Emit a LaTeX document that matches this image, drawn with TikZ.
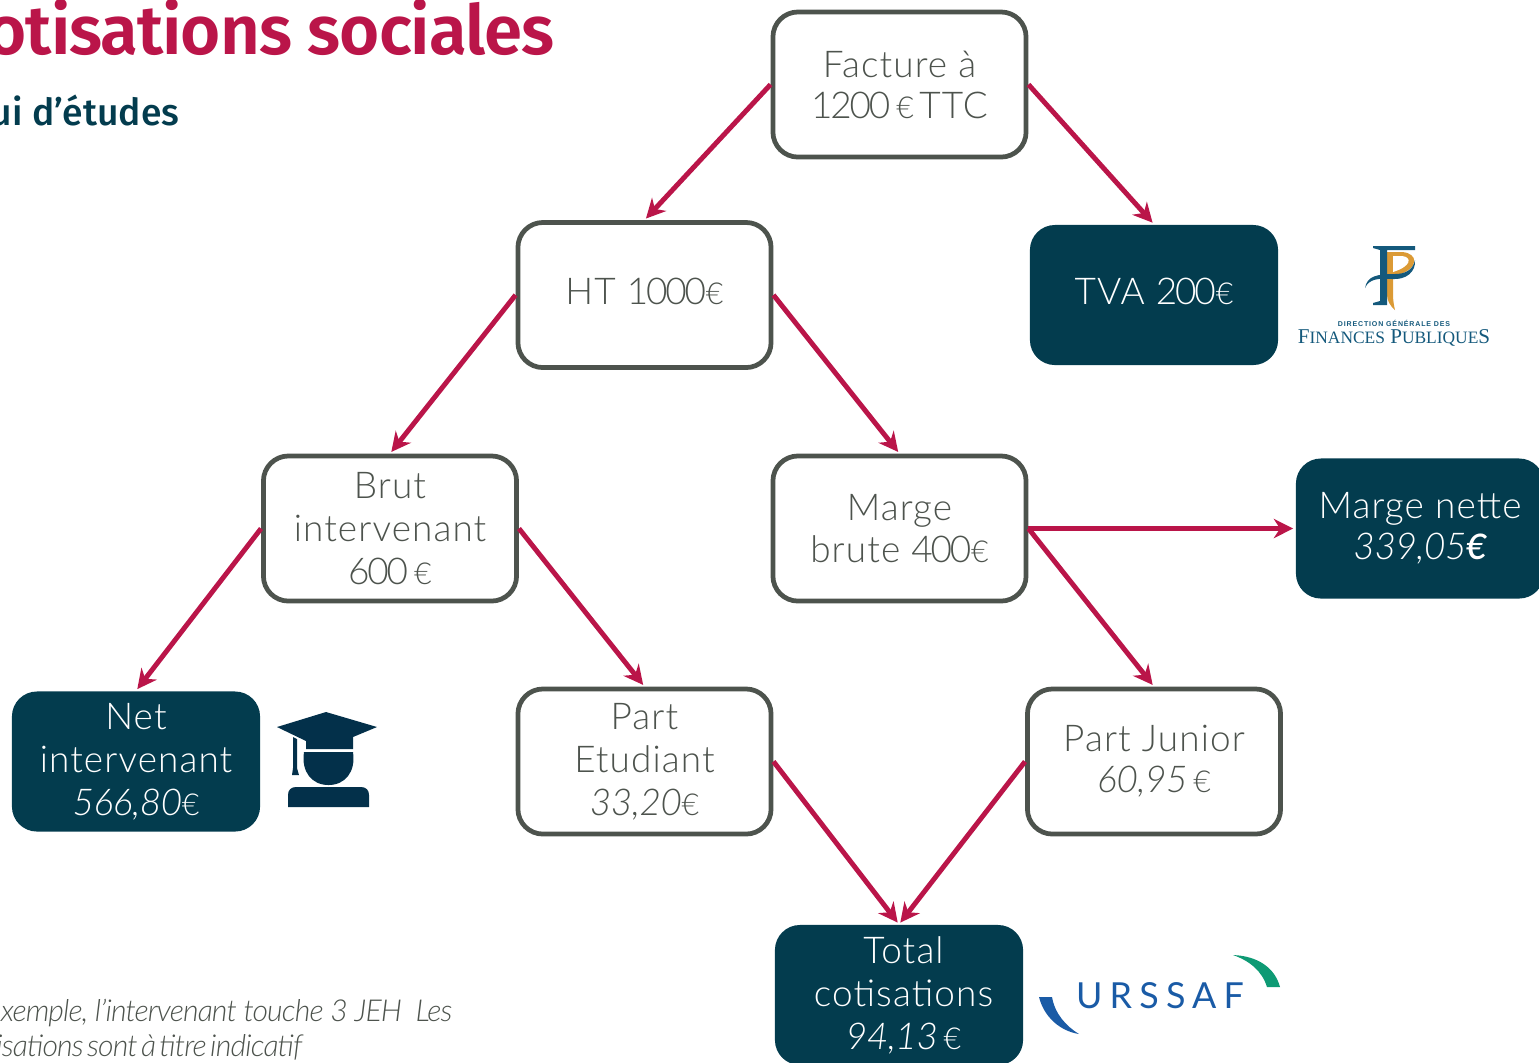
\documentclass[tikz,border=0pt]{standalone}
\usepackage{fontspec}
\usepackage[HTML]{xcolor}
\usetikzlibrary{positioning, arrows, arrows.meta}
\setmainfont{Lato Light}[LetterSpace=3]
\newfontfamily\numfont{Lato Light}[LetterSpace=-6, ItalicFeatures={LetterSpace=-1}]
\newfontfamily\titlefont{Fira Sans SemiBold}[LetterSpace=-1.5]
\newfontfamily\subfont{Fira Sans Medium}
\newfontfamily\notefont{Lato Light}[LetterSpace=-3]
\newfontfamily\notetightfont{Lato Light}[LetterSpace=-2.9,WordSpace=0.5]
\newfontfamily\logofont{Liberation Serif}
\newfontfamily\dgfipfont{Liberation Sans}[LetterSpace=12]
\newfontfamily\urssaffont{Lato}[LetterSpace=20]
\newcommand{\eur}{{\fontsize{8.6}{12}\selectfont €}}
\newcommand{\boldeur}{{\fontsize{10}{12}\selectfont\bfseries\itshape €}}
\newcommand{\num}[1]{{\numfont #1}}
\newcommand{\nudge}{\hspace*{2.6pt}}
\definecolor{crimson}{HTML}{BA1549}
\definecolor{petrol}{HTML}{033C4E}
\definecolor{slategrey}{HTML}{4D534D}
\definecolor{capblue}{HTML}{03304A}
\definecolor{fipblue}{HTML}{14597C}
\definecolor{fipgold}{HTML}{DB9A35}
\definecolor{ublue}{HTML}{1A5BA6}
\definecolor{ugreen}{HTML}{0E9A74}
\tikzset{
  >={Stealth[length=5.5pt,width=5.5pt]},
  step box/.style={draw=slategrey, line width=1.35pt, fill=white, rounded corners=0.25cm, minimum width=2.53cm, minimum height=1.45cm, align=center, inner sep=0pt, text=slategrey, font=\fontsize{10.5}{12.2}\selectfont},
  end box/.style={fill=petrol, rounded corners=0.25cm, minimum width=2.48cm, minimum height=1.4cm, align=center, inner sep=0pt, text=white, font=\fontsize{10.5}{12.2}\selectfont},
  flow/.style={->, draw=crimson, line width=1.4pt, shorten >=0.6pt},
}
\begin{document}
\begin{tikzpicture}[x=0.01cm, y=-0.01cm]
\useasboundingbox (0,0) rectangle (1539,1062);

\node[anchor=base east, inner sep=0pt, text=crimson, font=\titlefont\fontsize{19.6}{24}\selectfont] (title) at (555,54) {otisations sociales};
\node[anchor=base east, inner sep=0pt, text=petrol, font=\subfont\fontsize{10.6}{12}\selectfont] (subtitle) at (180,125) {ui d’études};
\node[anchor=base east, inner sep=0pt, text=slategrey, font=\notefont\itshape\fontsize{8.6}{10}\selectfont] (note1) at (453,1021) {xemple, l’intervenant touche 3 JEH\ \ Les};
\node[anchor=base east, inner sep=0pt, text=slategrey, font=\notetightfont\itshape\fontsize{8.6}{10}\selectfont] (note2) at (303,1056) {isations sont à titre indicatif};

\node[step box] (F) at (899.5,84.5) {Facture à\\[-0.5pt]\num{1200}\,\eur\hspace{0.15em}TTC};
\node[step box, text depth=2pt] (HT) at (644.5,295) {HT \num{1000}\eur};
\node[end box, text depth=2pt] (TVA) at (1154,295) {TVA \num{200}\eur};
\node[step box] (B) at (390,528.5) {Brut\\intervenant\\\num{600}\,\eur};
\node[step box] (M) at (899.5,528.5) {Marge\\[-0.5pt]brute \num{400}\eur};
\node[end box] (MN) at (1420,528.5) {Marge nette\\[-0.5pt]\textit{\num{339,05}}\boldeur};
\node[end box] (N) at (136,761.5) {Net\\intervenant\\\textit{\num{566,80}}\eur};
\node[step box] (PE) at (644.5,761.5) {Part\\Etudiant\\\textit{\num{33,20}}\eur};
\node[step box] (PJ) at (1154,761.5) {Part Junior\\[-0.5pt]\textit{\num{60,95}}\,\eur};
\node[end box] (T) at (899,995) {\nudge Total\\\nudge cotisations\\\nudge\textit{\num{94,13}}\,\eur};

\draw[flow] (F.west)--(HT.north);
\draw[flow] (F.east)--(TVA.north);
\draw[flow] (HT.west)--(B.north);
\draw[flow] (HT.east)--(M.north);
\draw[flow] (B.west)--(N.north);
\draw[flow] (B.east)--(PE.north);
\draw[flow] (M.east)--(MN.west);
\draw[flow] (M.east)--(PJ.north);
\draw[flow] (PE.east)--(T.north);
\draw[flow] (PJ.west)--(T.north);

% student
\fill[capblue] (326,712)--(377,727)--(353,737)--(353,749)--(306,749)--(306,741)--(277,727)--cycle;
\fill[capblue] (293,737)--(297,739)--(297,768)--(299,775)--(292,775)--(293,768)--cycle;
\fill[capblue] (304,752)--(353,752) .. controls (356,772) and (345,785) .. (328.5,785) .. controls (312,785) and (301,772) .. (304,752)--cycle;
\fill[capblue] (288,807)--(288,795) .. controls (288,790) and (291,787) .. (296,787)--(361,787) .. controls (366,787) and (369,790) .. (369,795)--(369,807)--cycle;

% finances publiques
\fill[fipgold] (1387,252)--(1402,252) .. controls (1418,253) and (1420,268) .. (1398,275)--(1393,275)--(1393,295) .. controls (1393,300) and (1394,306) .. (1395,310) .. controls (1390,306) and (1387,300) .. (1387,295)--cycle;
\fill[white] (1393,256)--(1402,256) .. controls (1412,257) and (1412,266) .. (1393,272)--cycle;
\fill[fipblue] (1373,246)--(1415,246)--(1415,250)--(1387,250)--(1387,305)--(1373,305)--(1373,303)--(1380,301)--(1380,250)--(1373,248)--cycle;
\fill[fipblue] (1365,288) .. controls (1367,276) and (1377,274) .. (1395,274) .. controls (1405,274) and (1413,270) .. (1415,260) .. controls (1416,272) and (1406,280) .. (1392,279) .. controls (1378,278) and (1369,279) .. (1365,288)--cycle;
\node[inner sep=0pt, text=fipblue, font=\dgfipfont\bfseries\fontsize{2}{3}\selectfont] (dgfip) at (1394,323) {DIRECTION GÉNÉRALE DES};
\node[inner sep=0pt, text=fipblue, font=\logofont\fontsize{6}{7}\selectfont] (fip) at (1394,338) {F{\fontsize{4.95}{7}\selectfont INANCES} P{\fontsize{4.95}{7}\selectfont UBLIQUE}S};

% urssaf
\node[inner sep=0pt, text=ublue, font=\urssaffont\fontsize{10.2}{12}\selectfont] (urssaf) at (1160,996) {URSSAF};
\fill[ugreen] (1233,955) .. controls (1258,956) and (1275,968) .. (1280,987)--(1267,987) .. controls (1262,971) and (1250,961) .. (1233,955)--cycle;
\fill[ublue] (1039,997)--(1052,997) .. controls (1055,1014) and (1066,1026) .. (1079,1034) .. controls (1060,1031) and (1044,1017) .. (1039,997)--cycle;
\end{tikzpicture}
\end{document}
